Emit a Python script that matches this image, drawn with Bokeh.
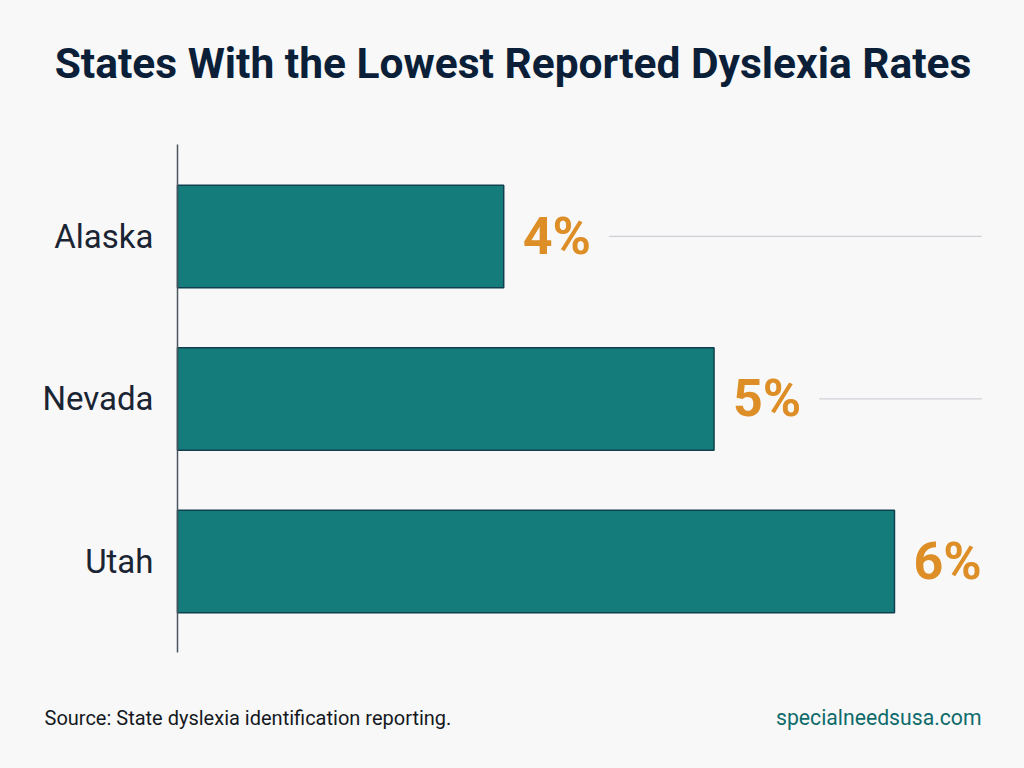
from bokeh.core.properties import value
from bokeh.embed import file_html
from bokeh.models import ColumnDataSource, FixedTicker, Label, LabelSet, LinearAxis, Range1d
from bokeh.plotting import figure
from bokeh.resources import INLINE

# Categories, printed labels and bar lengths as drawn in the picture
# (the picture's bars are not proportional to their printed percentages).
states = ["Alaska", "Nevada", "Utah"]
printed_rates = [4, 5, 6]
drawn_lengths = [2.73, 4.49, 6.0]

title_text = "States With the Lowest Reported Dyslexia Rates"
source_text = "Source: State dyslexia identification reporting."
site_text = "specialneedsusa.com"

BG = "#f8f8f8"
LEADER_GAP = 0.88
LEADER_END = 6.73

# Row index per state: first state on top.
rows = [len(states) - 1 - i for i in range(len(states))]

data = ColumnDataSource(dict(
    row=rows,
    length=drawn_lengths,
    label=[f"{v}%" for v in printed_rates],
))

# The frame fills the canvas, so that the title and footer texts are not clipped.
p = figure(
    width=1024, height=768, output_backend="svg", toolbar_location=None,
    x_range=Range1d(-1.481, 7.088), y_range=Range1d(-1.274, 3.452),
    background_fill_color=BG, border_fill_color=BG,
    min_border=0, x_axis_location=None, y_axis_location=None,
)
p.outline_line_color = None
p.grid.visible = False

ax = LinearAxis(
    ticker=FixedTicker(ticks=rows),
    major_label_overrides=dict(zip(rows, states)),
    fixed_location=0,
    bounds=(-0.56, 2.566),
    axis_line_color="#4a5560",
    axis_line_width=1.5,
    major_tick_line_color=None,
    major_tick_in=0,
    major_tick_out=0,
    minor_tick_line_color=None,
    major_label_text_font="Roboto",
    major_label_text_font_size="33px",
    major_label_text_color="#1a2433",
    major_label_standoff=24,
)
p.add_layout(ax, "left")

p.hbar(y="row", left=0, right="length", height=0.63, source=data,
       fill_color="#147c7a", line_color="#10404f", line_width=1.5)

p.add_layout(LabelSet(x="length", y="row", text="label", source=data,
                      x_offset=19, y_offset=0, text_align="left", text_baseline="middle",
                      text_font=value("Roboto"), text_font_style="bold", text_font_size="52px",
                      text_color="#dd8e27"))

leaders = [(r, l + LEADER_GAP) for r, l in zip(rows, drawn_lengths) if l + LEADER_GAP < LEADER_END]
p.segment(x0=[l[1] for l in leaders], x1=[LEADER_END] * len(leaders),
          y0=[l[0] for l in leaders], y1=[l[0] for l in leaders],
          line_color="#cdd1d6", line_width=1.2)


def screen_label(text, x, y, size, color, align="left", style="normal"):
    p.add_layout(Label(x=x, y=y, x_units="screen", y_units="screen", text=text,
                       text_font="Roboto", text_font_size=size, text_color=color,
                       text_align=align, text_baseline="middle", text_font_style=style))


screen_label(title_text, 512.5, 705, "42.5px", "#0b1f38", "center", "bold")
screen_label(source_text, 44, 51, "20px", "#15191f")
screen_label(site_text, 981, 51, "21.2px", "#0f6b6b", "right")

html = file_html(p, INLINE)
html = html.replace("<head>", f"<head><style>html,body{{background:{BG};}}</style>", 1)
open("out.html", "w").write(html)
